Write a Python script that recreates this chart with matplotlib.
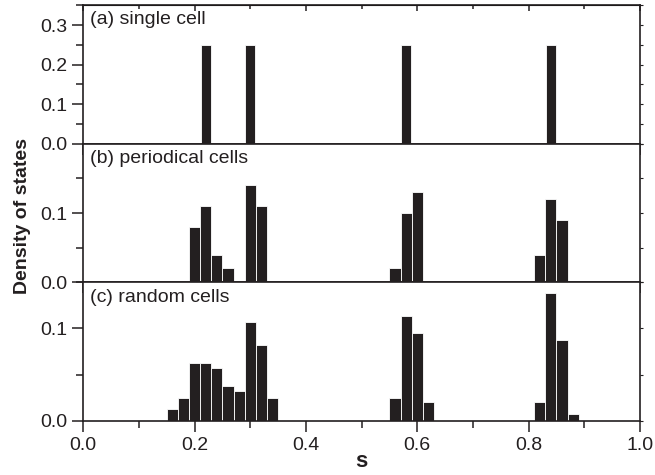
import numpy as np
import matplotlib
matplotlib.use("Agg")
import matplotlib.pyplot as plt
from matplotlib.ticker import MultipleLocator

plt.rcParams["font.family"] = ["Liberation Sans", "DejaVu Sans"]

# bin centres (s) and densities
single_s = [0.22, 0.30, 0.58, 0.84]
single_dos = [0.25, 0.25, 0.25, 0.25]

periodic_s = [0.20, 0.22, 0.24, 0.26, 0.30, 0.32, 0.56, 0.58, 0.60, 0.82, 0.84, 0.86]
periodic_dos = [0.08, 0.11, 0.04, 0.02, 0.14, 0.11, 0.02, 0.10, 0.13, 0.04, 0.12, 0.09]

random_s = [0.16, 0.18, 0.20, 0.22, 0.24, 0.26, 0.28, 0.30, 0.32, 0.34,
            0.56, 0.58, 0.60, 0.62, 0.82, 0.84, 0.86, 0.88]
random_dos = [0.013, 0.025, 0.063, 0.063, 0.057, 0.038, 0.032, 0.107, 0.082, 0.025,
              0.025, 0.113, 0.095, 0.020, 0.020, 0.138, 0.088, 0.007]

panels = [
    ("(a) single cell", single_s, single_dos, 0.35, 0.018),
    ("(b) periodical cells", periodic_s, periodic_dos, 0.2, 0.02),
    ("(c) random cells", random_s, random_dos, 0.15, 0.02),
]

BAR = "#231f20"
INK = "#231f20"

fig, axes = plt.subplots(3, 1, figsize=(6.55, 4.75), dpi=100, sharex=True)
fig.subplots_adjust(left=0.127, right=0.977, top=0.989, bottom=0.114, hspace=0)

for i, (ax, (label, s, dos, ymax, w)) in enumerate(zip(axes, panels)):
    ax.bar(s, dos, width=w, color=BAR, edgecolor="white", linewidth=0.6)
    ax.set_xlim(0, 1.0)
    ax.set_ylim(0, ymax)
    ax.xaxis.set_major_locator(MultipleLocator(0.2))
    ax.xaxis.set_minor_locator(MultipleLocator(0.1))
    ax.yaxis.set_major_locator(MultipleLocator(0.1))
    ax.yaxis.set_minor_locator(MultipleLocator(0.05))
    ax.tick_params(which="both", direction="out", width=1.1, color=INK,
                   labelsize=14, labelcolor=INK)
    ax.tick_params(which="major", length=8)
    ax.tick_params(which="minor", length=5)
    for sp in ax.spines.values():
        sp.set_linewidth(1.2)
        sp.set_color(INK)
    # short ticks on the right spine
    sec = ax.secondary_yaxis("right")
    sec.yaxis.set_major_locator(MultipleLocator(0.1))
    sec.yaxis.set_minor_locator(MultipleLocator(0.05))
    sec.tick_params(which="both", direction="out", length=2, width=0.8,
                    color=INK, labelright=False)
    sec.spines["right"].set_visible(False)
    ax.text(0.013, 0.955, label, transform=ax.transAxes, ha="left", va="top",
            fontsize=14, color=INK)
    # hide top y label so stacked panels don't collide
    if i > 0:
        ax.set_yticks([0.0, 0.1])
        ax.set_yticks([0.05, 0.15], minor=True)

top = axes[0].secondary_xaxis("top")
top.xaxis.set_major_locator(MultipleLocator(0.2))
top.xaxis.set_minor_locator(MultipleLocator(0.1))
top.tick_params(which="major", direction="in", length=4, width=1.1, color=INK, labeltop=False)
top.tick_params(which="minor", direction="in", length=3, width=1.1, color=INK)

axes[-1].set_xlabel("s", fontsize=16, fontweight="bold", color=INK, labelpad=-2)
fig.text(0.035, 0.545, "Density of states", rotation=90, ha="center", va="center",
         fontsize=14, fontweight="bold", color=INK)

fig.savefig("out.png", dpi=100)
